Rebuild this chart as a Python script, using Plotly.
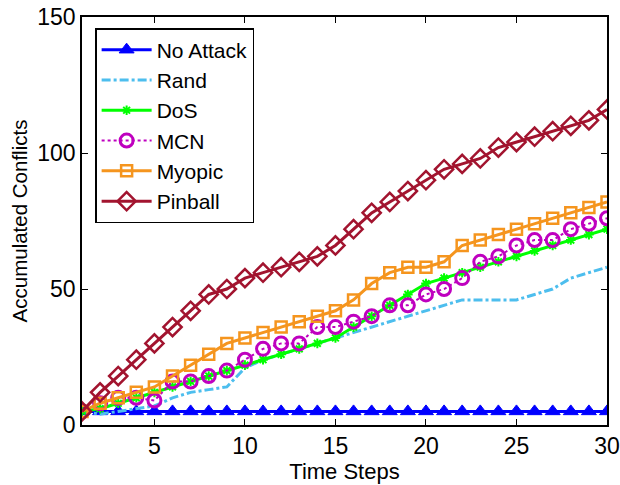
import plotly.graph_objects as go

steps = list(range(1, 31))

no_attack = [5] * 30
rand = [5, 4, 5, 6, 7, 10, 12, 13, 14, 21, 24, 26, 28, 30, 32, 34, 36, 38, 40, 42,
        44, 46, 46, 46, 46, 48, 50, 54, 56, 58]
dos = [5, 6, 8, 10, 12, 14, 16, 18, 20, 22, 24, 26, 28, 30, 32, 36, 40, 44, 48, 52,
       54, 56, 58, 60, 62, 64, 66, 68, 70, 72]
mcn = [5, 8, 10, 10, 9, 16, 16, 18, 20, 24, 28, 30, 30, 36, 36, 38, 40, 44, 44, 48,
       50, 54, 60, 62, 66, 68, 68, 72, 74, 76]
myopic = [5, 8, 10, 12, 14, 18, 22, 26, 30, 32, 34, 36, 38, 40, 42, 46, 52, 56, 58, 58,
          60, 66, 68, 70, 72, 74, 76, 78, 80, 82]
pinball = [5, 12, 18, 24, 30, 36, 42, 48, 50, 54, 56, 58, 60, 62, 66, 72, 78, 82, 86, 90,
           94, 96, 98, 102, 104, 106, 108, 110, 112, 116]

x_ticks = [5, 10, 15, 20, 25, 30]
y_ticks = [0, 50, 100, 150]

FONT = "Liberation Sans, Arial, Helvetica, sans-serif"

fig = go.Figure()

fig.add_trace(go.Scatter(
    x=steps, y=no_attack, name="No Attack", mode="lines+markers",
    line=dict(color="#0000FF", width=3),
    marker=dict(symbol="triangle-up", size=13, color="#0000FF",
                line=dict(color="#0000FF", width=1)),
))
fig.add_trace(go.Scatter(
    x=steps, y=rand, name="Rand", mode="lines",
    line=dict(color="#4DBEEE", width=3, dash="dashdot"),
))
fig.add_trace(go.Scatter(
    x=steps, y=dos, name="DoS", mode="lines+markers",
    line=dict(color="#00FF00", width=3),
    marker=dict(symbol="asterisk-open", size=8, color="#00FF00",
                line=dict(color="#00FF00", width=2)),
))
fig.add_trace(go.Scatter(
    x=steps, y=mcn, name="MCN", mode="lines+markers",
    line=dict(color="#BF00BF", width=2, dash="dot"),
    marker=dict(symbol="circle-open", size=13, color="#BF00BF",
                line=dict(color="#BF00BF", width=3)),
))
fig.add_trace(go.Scatter(
    x=steps, y=myopic, name="Myopic", mode="lines+markers",
    line=dict(color="#F5951E", width=3),
    marker=dict(symbol="square-open", size=11, color="#F5951E",
                line=dict(color="#F5951E", width=2.5)),
))
fig.add_trace(go.Scatter(
    x=steps, y=pinball, name="Pinball", mode="lines+markers",
    line=dict(color="#A2142F", width=3),
    marker=dict(symbol="diamond-open", size=14, color="#A2142F",
                line=dict(color="#A2142F", width=2.5)),
))

fig.update_layout(
    width=620, height=485,
    margin=dict(l=82, r=13, t=17, b=60),
    paper_bgcolor="white", plot_bgcolor="white",
    font=dict(family=FONT, size=22, color="black"),
    showlegend=True,
    legend=dict(
        x=0.025, y=0.973, xanchor="left", yanchor="top",
        bgcolor="white", bordercolor="black", borderwidth=1.5,
        font=dict(family=FONT, size=21, color="black"),
        itemwidth=50, tracegroupgap=0,
    ),
    xaxis=dict(
        range=[1, 30], tickvals=x_ticks, ticktext=[str(v) for v in x_ticks],
        title=dict(text="Time Steps", font=dict(size=22), standoff=0),
        showgrid=False, zeroline=False, showline=True, linecolor="black",
        linewidth=1.5, mirror="ticks", ticks="inside", ticklen=6,
        tickcolor="black", tickfont=dict(size=23), automargin=False,
    ),
    yaxis=dict(
        range=[0, 150], tickvals=y_ticks, ticktext=[str(v) for v in y_ticks],
        title=dict(text="Accumulated Conflicts", font=dict(size=20.5), standoff=4),
        showgrid=False, zeroline=False, showline=True, linecolor="black",
        linewidth=1.5, mirror="ticks", ticks="inside", ticklen=6,
        tickcolor="black", tickfont=dict(size=23), automargin=False,
    ),
)

fig.write_html(
    "out.html",
    config={"displayModeBar": False},
    post_script="document.body.style.margin='0';document.body.style.padding='0';",
)
